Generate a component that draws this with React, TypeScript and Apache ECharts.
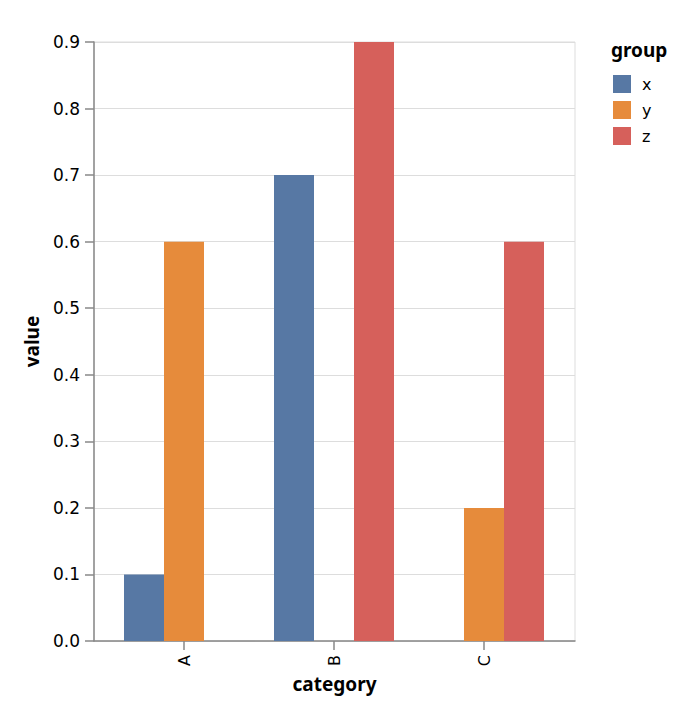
import React, { useEffect, useRef } from "react";
import * as echarts from "echarts";

const categories = ["A", "B", "C"];
const groups = ["x", "y", "z"];
const xValues = [0.1, 0.7, null];
const yValues = [0.6, null, 0.2];
const zValues = [null, 0.9, 0.6];
const colors = ["#5778a4", "#e68b3b", "#d6605b"];
const yTicks = [0, 0.9, 0.1];

const TITLE_FONT = "Noto Sans";
const LABEL_FONT = "DejaVu Sans";
const LABEL_SIZE = 17;
const TITLE_SIZE = 19;

export default function App() {
  const ref = useRef<HTMLDivElement>(null);
  useEffect(() => {
    document.body.style.margin = "0";
    const chart = echarts.init(ref.current!, null, { renderer: "svg" });
    const seriesValues = [xValues, yValues, zValues];
    chart.setOption({
      animation: false,
      textStyle: { fontFamily: LABEL_FONT },
      title: {
        text: "group",
        left: 611,
        top: 40,
        padding: 0,
        textStyle: { fontFamily: TITLE_FONT, fontSize: TITLE_SIZE, fontWeight: "bold", color: "#000" },
      },
      legend: {
        data: groups,
        orient: "vertical",
        left: 613,
        top: 75,
        padding: 0,
        itemWidth: 18,
        itemHeight: 18,
        itemGap: 8,
        icon: "rect",
        textStyle: { fontFamily: LABEL_FONT, fontSize: LABEL_SIZE - 1, color: "#000", padding: [0, 0, 0, 6] },
      },
      grid: [
        { left: 94, right: 117, top: 42, bottom: 77, show: true, borderColor: "#ddd", borderWidth: 1 },
        { left: 109, right: 133, top: 42, bottom: 77 },
      ],
      xAxis: [
        {
          gridIndex: 0,
          type: "category",
          data: categories,
          axisLine: { show: true, lineStyle: { color: "#888", width: 1.5 } },
          axisTick: { show: false },
          axisLabel: { show: false },
          splitLine: { show: false },
          name: "category",
          nameLocation: "middle",
          nameGap: 33,
          nameTextStyle: { fontFamily: TITLE_FONT, fontSize: TITLE_SIZE, fontWeight: "bold", color: "#000" },
        },
        {
          gridIndex: 1,
          type: "category",
          data: categories,
          boundaryGap: true,
          axisLine: { show: false },
          axisTick: { show: true, alignWithLabel: true, length: 9, lineStyle: { color: "#888", width: 1.5 } },
          axisLabel: { rotate: 90, margin: 14, fontFamily: LABEL_FONT, fontSize: LABEL_SIZE - 1, color: "#000" },
          splitLine: { show: false },
        },
      ],
      yAxis: [
        {
          gridIndex: 0,
          type: "value",
          min: yTicks[0],
          max: yTicks[1],
          interval: yTicks[2],
          axisLine: { show: true, lineStyle: { color: "#888", width: 1.5 } },
          axisTick: { show: true, length: 9, lineStyle: { color: "#888", width: 1.5 } },
          axisLabel: {
            margin: 14,
            fontFamily: LABEL_FONT,
            fontSize: LABEL_SIZE,
            color: "#000",
            formatter: (v: number) => v.toFixed(1),
          },
          splitLine: { show: true, lineStyle: { color: "#ddd", width: 1 } },
          name: "value",
          nameLocation: "middle",
          nameGap: 53,
          nameTextStyle: { fontFamily: TITLE_FONT, fontSize: TITLE_SIZE, fontWeight: "bold", color: "#000" },
        },
        {
          gridIndex: 1,
          type: "value",
          min: yTicks[0],
          max: yTicks[1],
          interval: yTicks[2],
          show: false,
          splitLine: { show: false },
        },
      ],
      series: groups.map((g, i) => ({
        name: g,
        type: "bar",
        xAxisIndex: 1,
        yAxisIndex: 1,
        data: seriesValues[i],
        barWidth: 40,
        barGap: "0%",
        itemStyle: { color: colors[i] },
      })),
    });
    return () => chart.dispose();
  }, []);
  return <div ref={ref} style={{ width: 692, height: 718 }} />;
}
